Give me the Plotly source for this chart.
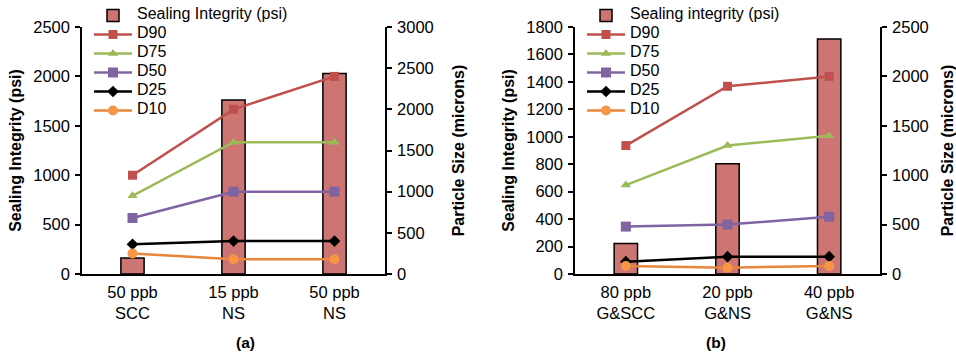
import plotly.graph_objects as go

W, H = 956, 353

cats_a = ["50 ppb<br>SCC", "15 ppb<br>NS", "50 ppb<br>NS"]
seal_a = [162, 1760, 2030]
d90_a = [1200, 2000, 2400]
d75_a = [950, 1600, 1600]
d50_a = [680, 1000, 1000]
d25_a = [360, 400, 400]
d10_a = [250, 180, 180]

cats_b = ["80 ppb<br>G&SCC", "20 ppb<br>G&NS", "40 ppb<br>G&NS"]
seal_b = [223, 804, 1713]
d90_b = [1300, 1900, 2000]
d75_b = [900, 1300, 1400]
d50_b = [480, 500, 580]
d25_b = [125, 175, 175]
d10_b = [81, 64, 81]

FONT = "Arial, Liberation Sans, sans-serif"
BAR_FILL = "#CD7573"
LEG_SIZE = 16
series_style = [
    ("D90", "#C0504D", "#C0504D", "square", 9),
    ("D75", "#9BBB59", "#9BBB59", "triangle-up", 9),
    ("D50", "#8064A2", "#8064A2", "square", 10),
    ("D25", "#000000", "#000000", "diamond", 9),
    ("D10", "#E8873B", "#F79646", "circle", 10),
]


def leg(name):
    return f'<span style="font-size:{LEG_SIZE}px">{name}</span>'


fig = go.Figure()


def add_panel(cats, seal, lines, xa, ya_left, ya_right, legend, bar_name):
    fig.add_trace(go.Bar(
        x=cats, y=seal, name=leg(bar_name), xaxis=xa, yaxis=ya_left,
        marker=dict(color=BAR_FILL, line=dict(color="black", width=1.5)),
        legend=legend,
    ))
    for (name, lc, mc, sym, sz), vals in zip(series_style, lines):
        fig.add_trace(go.Scatter(
            x=cats, y=vals, name=leg(name), mode="lines+markers",
            xaxis=xa, yaxis=ya_right, legend=legend,
            line=dict(color=lc, width=2.5),
            marker=dict(color=mc, symbol=sym, size=sz, line=dict(width=0)),
        ))


add_panel(cats_a, seal_a, [d90_a, d75_a, d50_a, d25_a, d10_a], "x", "y", "y2", "legend", "Sealing Integrity (psi)")
add_panel(cats_b, seal_b, [d90_b, d75_b, d50_b, d25_b, d10_b], "x2", "y3", "y4", "legend2", "Sealing integrity (psi)")

y_dom = [(H - 274) / H, (H - 27) / H]
xa_dom = [82 / W, 385 / W]
xb_dom = [575 / W, 880 / W]

tickfont = dict(family=FONT, size=16.5, color="black")
titlefont = dict(family=FONT, size=16, color="black", weight="bold")
legfont = dict(family=FONT, size=10, color="black")

xcommon = dict(showline=True, linecolor="black", linewidth=1.5, ticks="",
               tickfont=tickfont, showgrid=False, zeroline=False, automargin=False,
               ticklabelstandoff=2)
ycommon = dict(showline=True, linecolor="black", linewidth=1.5, ticks="outside",
               ticklen=5, tickcolor="black", tickwidth=1.5, tickfont=tickfont,
               showgrid=False, zeroline=False, automargin=False, ticklabelstandoff=2)

fig.update_layout(
    width=W, height=H, margin=dict(l=0, r=0, t=0, b=0, autoexpand=False),
    paper_bgcolor="white", plot_bgcolor="white",
    font=dict(family=FONT, color="black"),
    bargap=0.77,
    xaxis=dict(domain=xa_dom, anchor="y", **xcommon),
    xaxis2=dict(domain=xb_dom, anchor="y3", **xcommon),
    yaxis=dict(domain=y_dom, anchor="x", range=[0, 2500], dtick=500,
               title=dict(text="Sealing Integrity (psi)", font=titlefont, standoff=8), **ycommon),
    yaxis2=dict(domain=y_dom, anchor="x", overlaying="y", side="right", range=[0, 3000], dtick=500,
                title=dict(text="Particle Size (microns)", font=titlefont, standoff=20), **ycommon),
    yaxis3=dict(domain=y_dom, anchor="x2", range=[0, 1800], dtick=200,
                title=dict(text="Sealing Integrity (psi)", font=titlefont, standoff=8), **ycommon),
    yaxis4=dict(domain=y_dom, anchor="x2", overlaying="y3", side="right", range=[0, 2500], dtick=500,
                title=dict(text="Particle Size (microns)", font=titlefont, standoff=21), **ycommon),
    legend=dict(x=89 / W, y=1 - 1 / H, xanchor="left", yanchor="top",
                bgcolor="rgba(0,0,0,0)", font=legfont, tracegroupgap=0, itemwidth=38),
    legend2=dict(x=582 / W, y=1 - 1 / H, xanchor="left", yanchor="top",
                 bgcolor="rgba(0,0,0,0)", font=legfont, tracegroupgap=0, itemwidth=38),
    annotations=[
        dict(text="<b>(a)</b>", x=sum(xa_dom) / 2, y=1 - 342 / H, xref="paper", yref="paper",
             yanchor="middle", showarrow=False, font=dict(family=FONT, size=15.5, color="black")),
        dict(text="<b>(b)</b>", x=sum(xb_dom) / 2, y=1 - 342 / H, xref="paper", yref="paper",
             yanchor="middle", showarrow=False, font=dict(family=FONT, size=15.5, color="black")),
    ],
)

fig.write_html("out.html")
